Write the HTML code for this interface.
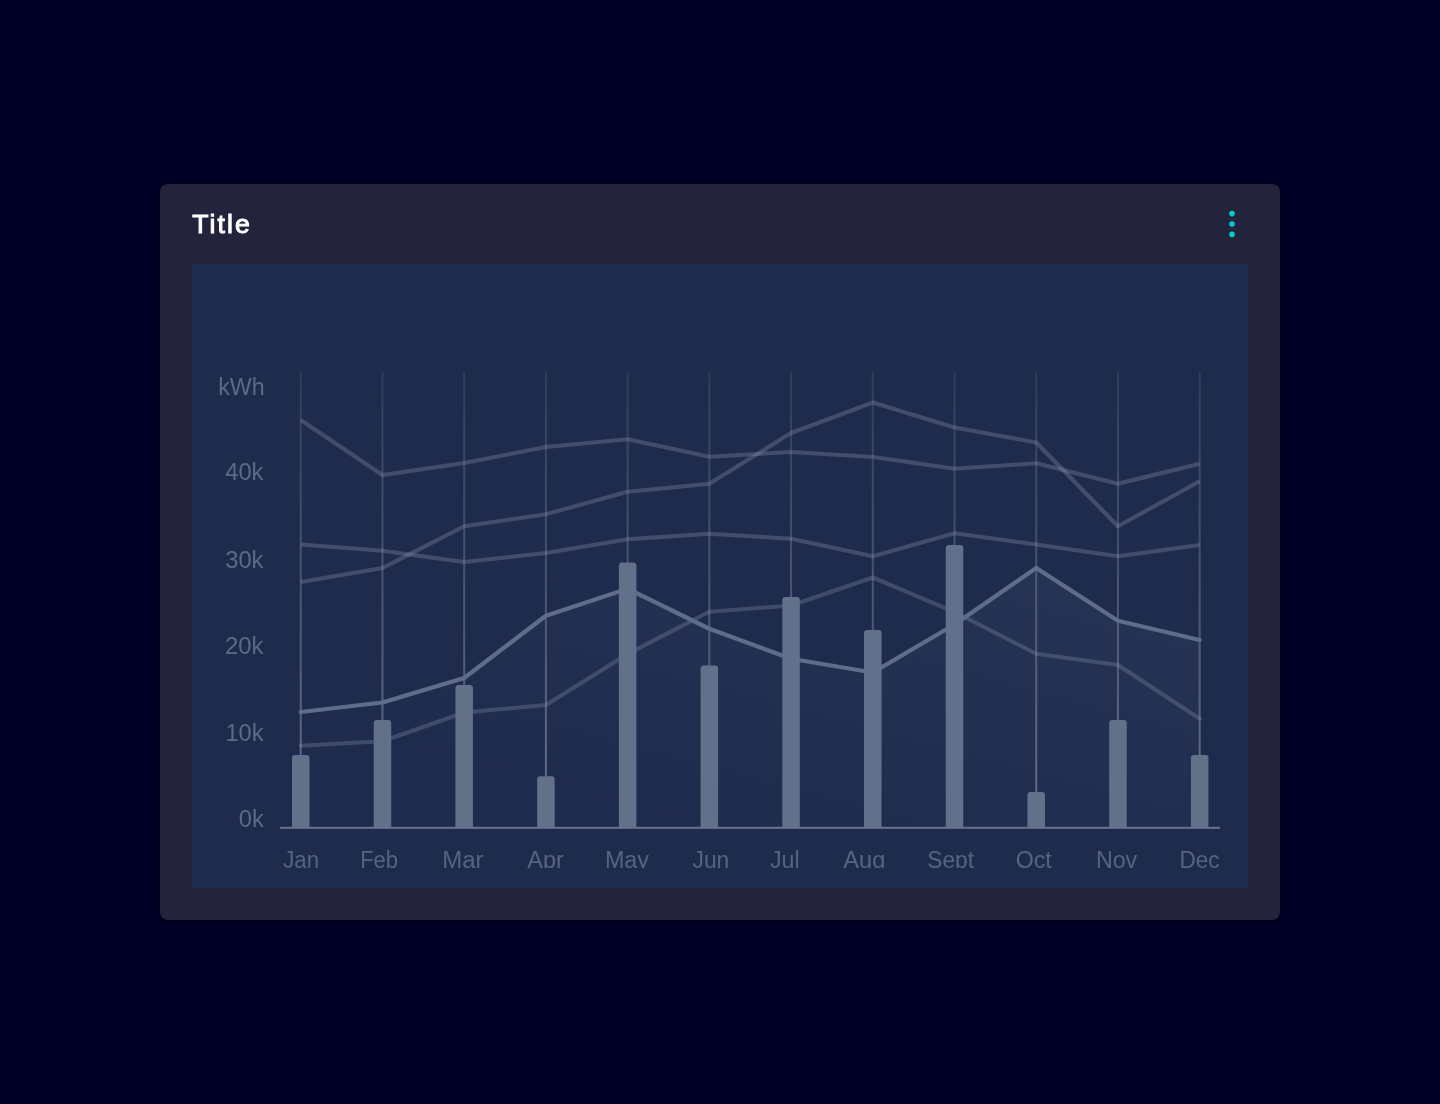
<!DOCTYPE html>
<html lang="en">
<head>
<meta charset="utf-8">
<title>Title</title>
<style>
html,body{margin:0;padding:0;}
body{width:1440px;height:1104px;background:#000028;position:relative;overflow:hidden;font-family:"Liberation Sans",sans-serif;}
.card{will-change:transform;position:absolute;left:160px;top:184px;width:1120px;height:736px;background:#23233c;border-radius:8px;box-shadow:0 0 6px rgba(0,0,0,0.3),0 4px 10px rgba(0,0,0,0.2);}
.title{position:absolute;left:32.2px;top:23.8px;font-size:26.6px;line-height:32px;font-weight:normal;color:#ffffff;-webkit-text-stroke:1px #ffffff;letter-spacing:2.1px;white-space:nowrap;}
.dots{position:absolute;left:1066px;top:24px;width:12px;height:32px;}
.plot{position:absolute;left:32px;top:80px;width:1056px;height:624px;background:#1f2b4d;overflow:hidden;}
.chart{position:absolute;left:0;top:0;display:block;overflow:hidden;}
</style>
</head>
<body>
<div class="card">
<div class="title">Title</div>
<svg class="dots" viewBox="0 0 12 32"><circle cx="6" cy="5.6" r="2.8" fill="#00cccc"/><circle cx="6" cy="16" r="2.8" fill="#00cccc"/><circle cx="6" cy="26.4" r="2.8" fill="#00cccc"/></svg>
<div class="plot">
<svg class="chart" width="1056" height="604" viewBox="192 264 1056 604">
<defs>
<linearGradient id="ga" gradientUnits="userSpaceOnUse" x1="1050" y1="570" x2="962" y2="900"><stop offset="0" stop-color="#8c98b6" stop-opacity="0.075"/><stop offset="1" stop-color="#8c98b6" stop-opacity="0"/></linearGradient>
<linearGradient id="gg" gradientUnits="userSpaceOnUse" x1="0" y1="372" x2="0" y2="828"><stop offset="0" stop-color="#66738e" stop-opacity="0.24"/><stop offset="1" stop-color="#66738e" stop-opacity="0.95"/></linearGradient>
<linearGradient id="gbar" x1="0" y1="0" x2="0" y2="1"><stop offset="0" stop-color="#62708a"/><stop offset="1" stop-color="#62708a"/></linearGradient>
</defs>
<path d="M300.75,828 L300.75,712.00 L382.47,702.50 L464.19,678.00 L545.91,615.75 L627.63,588.75 L709.35,628.75 L791.07,658.75 L872.79,672.50 L954.51,624.50 L1036.23,568.00 L1117.95,620.75 L1199.67,640.00 L1199.67,828 Z" fill="url(#ga)"/>
<g fill="url(#gg)">
<rect x="299.75" y="372" width="2" height="456"/>
<rect x="381.47" y="372" width="2" height="456"/>
<rect x="463.19" y="372" width="2" height="456"/>
<rect x="544.91" y="372" width="2" height="456"/>
<rect x="626.63" y="372" width="2" height="456"/>
<rect x="708.35" y="372" width="2" height="456"/>
<rect x="790.07" y="372" width="2" height="456"/>
<rect x="871.79" y="372" width="2" height="456"/>
<rect x="953.51" y="372" width="2" height="456"/>
<rect x="1035.23" y="372" width="2" height="456"/>
<rect x="1116.95" y="372" width="2" height="456"/>
<rect x="1198.67" y="372" width="2" height="456"/>
</g>
<g fill="none" stroke-width="4.2" stroke-linejoin="round" stroke-linecap="round">
<polyline points="300.75,420.00 382.47,475.00 464.19,463.00 545.91,447.00 627.63,439.25 709.35,456.75 791.07,452.00 872.79,457.00 954.51,468.75 1036.23,463.25 1117.95,483.75 1199.67,463.75" stroke="#919dba" stroke-opacity="0.3" stroke-linecap="butt"/>
<polyline points="300.75,582.00 382.47,568.00 464.19,526.25 545.91,514.25 627.63,491.75 709.35,483.75 791.07,433.00 872.79,402.50 954.51,427.50 1036.23,442.50 1117.95,526.25 1199.67,481.25" stroke="#919dba" stroke-opacity="0.3" stroke-linecap="butt"/>
<polyline points="300.75,544.50 382.47,550.75 464.19,562.00 545.91,553.00 627.63,539.25 709.35,533.75 791.07,538.75 872.79,556.25 954.51,533.25 1036.23,544.50 1117.95,556.25 1199.67,545.00" stroke="#919dba" stroke-opacity="0.3" stroke-linecap="butt"/>
<polyline points="300.75,745.75 382.47,741.25 464.19,712.50 545.91,705.00 627.63,654.00 709.35,611.75 791.07,605.50 872.79,577.50 954.51,612.00 1036.23,653.75 1117.95,665.00 1199.67,718.75" stroke="#919dba" stroke-opacity="0.28"/>
<polyline points="300.75,712.00 382.47,702.50 464.19,678.00 545.91,615.75 627.63,588.75 709.35,628.75 791.07,658.75 872.79,672.50 954.51,624.50 1036.23,568.00 1117.95,620.75 1199.67,640.00" stroke="#5f6d8a"/>
</g>
<g fill="url(#gbar)">
<path d="M292.00,828 V758.00 Q292.00,755.00 295.00,755.00 H306.50 Q309.50,755.00 309.50,758.00 V828 Z"/>
<path d="M373.72,828 V723.00 Q373.72,720.00 376.72,720.00 H388.22 Q391.22,720.00 391.22,723.00 V828 Z"/>
<path d="M455.44,828 V688.00 Q455.44,685.00 458.44,685.00 H469.94 Q472.94,685.00 472.94,688.00 V828 Z"/>
<path d="M537.16,828 V779.25 Q537.16,776.25 540.16,776.25 H551.66 Q554.66,776.25 554.66,779.25 V828 Z"/>
<path d="M618.88,828 V565.50 Q618.88,562.50 621.88,562.50 H633.38 Q636.38,562.50 636.38,565.50 V828 Z"/>
<path d="M700.60,828 V668.50 Q700.60,665.50 703.60,665.50 H715.10 Q718.10,665.50 718.10,668.50 V828 Z"/>
<path d="M782.32,828 V600.00 Q782.32,597.00 785.32,597.00 H796.82 Q799.82,597.00 799.82,600.00 V828 Z"/>
<path d="M864.04,828 V633.00 Q864.04,630.00 867.04,630.00 H878.54 Q881.54,630.00 881.54,633.00 V828 Z"/>
<path d="M945.76,828 V548.00 Q945.76,545.00 948.76,545.00 H960.26 Q963.26,545.00 963.26,548.00 V828 Z"/>
<path d="M1027.48,828 V795.00 Q1027.48,792.00 1030.48,792.00 H1041.98 Q1044.98,792.00 1044.98,795.00 V828 Z"/>
<path d="M1109.20,828 V723.00 Q1109.20,720.00 1112.20,720.00 H1123.70 Q1126.70,720.00 1126.70,723.00 V828 Z"/>
<path d="M1190.92,828 V758.00 Q1190.92,755.00 1193.92,755.00 H1205.42 Q1208.42,755.00 1208.42,758.00 V828 Z"/>
</g>
<rect x="280" y="826.8" width="940" height="2" fill="#66738d"/>
<g font-family="Liberation Sans, sans-serif" font-size="23" fill="#5c6a89">
<text x="218.15" y="395.0" textLength="46.44" lengthAdjust="spacingAndGlyphs">kWh</text>
<text x="225.24" y="480.3" textLength="38.26" lengthAdjust="spacingAndGlyphs">40k</text>
<text x="225.23" y="568.0" textLength="38.27" lengthAdjust="spacingAndGlyphs">30k</text>
<text x="224.96" y="653.6" textLength="38.54" lengthAdjust="spacingAndGlyphs">20k</text>
<text x="225.42" y="741.1" textLength="38.08" lengthAdjust="spacingAndGlyphs">10k</text>
<text x="238.71" y="826.7" textLength="25.06" lengthAdjust="spacingAndGlyphs">0k</text>
</g>
<g font-family="Liberation Sans, sans-serif" font-size="23" fill="#56647f">
<text x="283.24" y="868" textLength="35.83" lengthAdjust="spacingAndGlyphs">Jan</text>
<text x="360.13" y="868" textLength="37.92" lengthAdjust="spacingAndGlyphs">Feb</text>
<text x="442.16" y="868" textLength="41.36" lengthAdjust="spacingAndGlyphs">Mar</text>
<text x="527.25" y="868" textLength="36.51" lengthAdjust="spacingAndGlyphs">Apr</text>
<text x="604.92" y="868" textLength="44.09" lengthAdjust="spacingAndGlyphs">May</text>
<text x="692.48" y="868" textLength="36.83" lengthAdjust="spacingAndGlyphs">Jun</text>
<text x="769.98" y="868" textLength="29.62" lengthAdjust="spacingAndGlyphs">Jul</text>
<text x="843.25" y="868" textLength="42.06" lengthAdjust="spacingAndGlyphs">Aug</text>
<text x="927.23" y="868" textLength="46.78" lengthAdjust="spacingAndGlyphs">Sept</text>
<text x="1015.71" y="868" textLength="36.04" lengthAdjust="spacingAndGlyphs">Oct</text>
<text x="1095.91" y="868" textLength="41.34" lengthAdjust="spacingAndGlyphs">Nov</text>
<text x="1179.40" y="868" textLength="40.15" lengthAdjust="spacingAndGlyphs">Dec</text>
</g>
</svg>
</div>
</div>
</body>
</html>
